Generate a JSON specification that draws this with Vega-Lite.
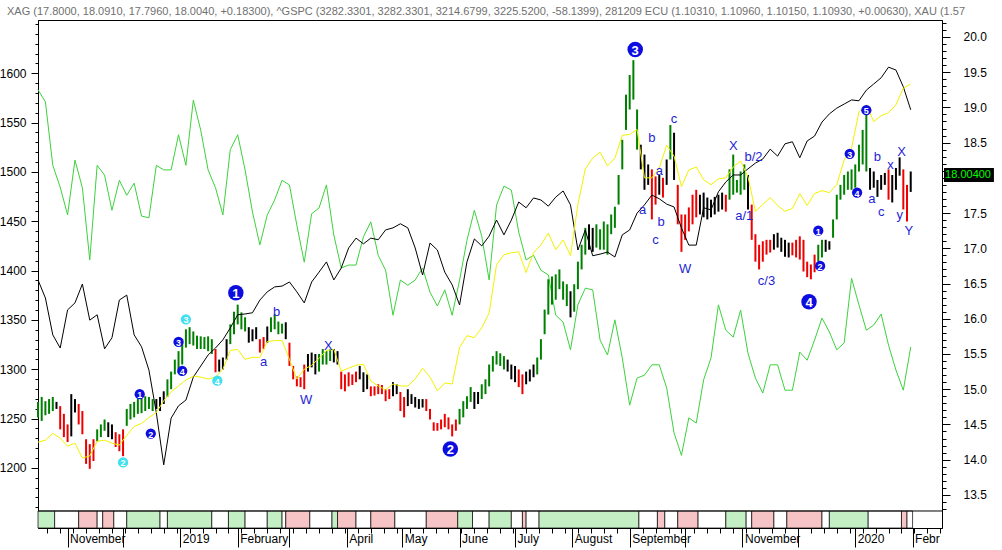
{
"$schema": "https://vega.github.io/schema/vega-lite/v6.json",
"width": 904, "height": 508,
"autosize": {"type": "none"},
"padding": {"left": 38, "top": 20, "right": 60, "bottom": 22},
"background": "#ffffff",
"title": {"text": "XAG (17.8000, 18.0910, 17.7960, 18.0040, +0.18300), ^GSPC (3282.3301, 3282.3301, 3214.6799, 3225.5200, -58.1399), 281209 ECU (1.10310, 1.10960, 1.10150, 1.10930, +0.00630), XAU (1.57", "anchor": "start", "frame": "group", "dx": -31, "offset": -8, "baseline": "bottom", "font": "Liberation Sans", "fontSize": 11, "fontWeight": "normal", "color": "#707070"},
"config": {"view": {"stroke": "#000000", "fill": "#ffffff"}, "font": "Liberation Sans"},
"datasets": {
"xag": [
{"d":"2018-10-16","lo":14.60,"hi":14.82,"c":"g"},{"d":"2018-10-18","lo":14.55,"hi":14.89,"c":"g"},{"d":"2018-10-20","lo":14.63,"hi":14.83,"c":"g"},{"d":"2018-10-22","lo":14.65,"hi":14.86,"c":"g"},{"d":"2018-10-24","lo":14.69,"hi":14.89,"c":"g"},{"d":"2018-10-26","lo":14.72,"hi":14.82,"c":"k"},{"d":"2018-10-28","lo":14.43,"hi":14.76,"c":"r"},{"d":"2018-10-30","lo":14.32,"hi":14.65,"c":"r"},
{"d":"2018-11-01","lo":14.25,"hi":14.50,"c":"r"},{"d":"2018-11-03","lo":14.33,"hi":14.93,"c":"k"},{"d":"2018-11-05","lo":14.67,"hi":14.86,"c":"k"},{"d":"2018-11-07","lo":14.50,"hi":14.79,"c":"r"},{"d":"2018-11-09","lo":14.36,"hi":14.69,"c":"r"},{"d":"2018-11-11","lo":13.94,"hi":14.29,"c":"r"},{"d":"2018-11-13","lo":13.87,"hi":14.22,"c":"r"},{"d":"2018-11-15","lo":13.98,"hi":14.29,"c":"r"},{"d":"2018-11-17","lo":14.26,"hi":14.43,"c":"g"},{"d":"2018-11-19","lo":14.32,"hi":14.50,"c":"g"},{"d":"2018-11-21","lo":14.41,"hi":14.57,"c":"g"},{"d":"2018-11-23","lo":14.32,"hi":14.53,"c":"k"},{"d":"2018-11-25","lo":14.29,"hi":14.50,"c":"k"},{"d":"2018-11-27","lo":14.18,"hi":14.39,"c":"r"},{"d":"2018-11-29","lo":14.12,"hi":14.36,"c":"r"},
{"d":"2018-12-01","lo":14.05,"hi":14.43,"c":"r"},{"d":"2018-12-03","lo":14.48,"hi":14.72,"c":"g"},{"d":"2018-12-05","lo":14.57,"hi":14.79,"c":"g"},{"d":"2018-12-07","lo":14.60,"hi":14.82,"c":"g"},{"d":"2018-12-09","lo":14.65,"hi":14.86,"c":"g"},{"d":"2018-12-11","lo":14.66,"hi":14.89,"c":"g"},{"d":"2018-12-13","lo":14.69,"hi":14.90,"c":"g"},{"d":"2018-12-15","lo":14.72,"hi":14.89,"c":"g"},{"d":"2018-12-17","lo":14.69,"hi":14.86,"c":"g"},{"d":"2018-12-19","lo":14.72,"hi":14.86,"c":"k"},{"d":"2018-12-21","lo":14.69,"hi":14.89,"c":"k"},{"d":"2018-12-23","lo":14.79,"hi":14.97,"c":"k"},{"d":"2018-12-25","lo":14.89,"hi":15.14,"c":"g"},{"d":"2018-12-27","lo":15.00,"hi":15.25,"c":"g"},{"d":"2018-12-29","lo":15.21,"hi":15.42,"c":"g"},{"d":"2018-12-31","lo":15.28,"hi":15.54,"c":"g"},
{"d":"2019-01-02","lo":15.35,"hi":15.71,"c":"g"},{"d":"2019-01-04","lo":15.59,"hi":15.85,"c":"g"},{"d":"2019-01-06","lo":15.64,"hi":15.88,"c":"g"},{"d":"2019-01-08","lo":15.62,"hi":15.82,"c":"g"},{"d":"2019-01-10","lo":15.57,"hi":15.76,"c":"g"},{"d":"2019-01-12","lo":15.57,"hi":15.75,"c":"g"},{"d":"2019-01-14","lo":15.57,"hi":15.74,"c":"g"},{"d":"2019-01-16","lo":15.54,"hi":15.75,"c":"g"},{"d":"2019-01-18","lo":15.50,"hi":15.71,"c":"g"},{"d":"2019-01-20","lo":15.24,"hi":15.57,"c":"r"},{"d":"2019-01-22","lo":15.25,"hi":15.42,"c":"k"},{"d":"2019-01-24","lo":15.28,"hi":15.45,"c":"k"},{"d":"2019-01-26","lo":15.42,"hi":15.71,"c":"k"},{"d":"2019-01-28","lo":15.64,"hi":15.92,"c":"g"},{"d":"2019-01-30","lo":15.78,"hi":16.10,"c":"g"},
{"d":"2019-02-01","lo":15.92,"hi":16.20,"c":"g"},{"d":"2019-02-03","lo":15.85,"hi":16.09,"c":"g"},{"d":"2019-02-05","lo":15.82,"hi":16.02,"c":"g"},{"d":"2019-02-07","lo":15.66,"hi":15.88,"c":"k"},{"d":"2019-02-09","lo":15.68,"hi":15.85,"c":"k"},{"d":"2019-02-11","lo":15.71,"hi":15.88,"c":"k"},{"d":"2019-02-13","lo":15.52,"hi":15.71,"c":"r"},{"d":"2019-02-15","lo":15.57,"hi":15.74,"c":"r"},{"d":"2019-02-17","lo":15.66,"hi":15.89,"c":"k"},{"d":"2019-02-19","lo":15.81,"hi":16.02,"c":"g"},{"d":"2019-02-21","lo":15.85,"hi":16.06,"c":"g"},{"d":"2019-02-23","lo":15.78,"hi":15.96,"c":"g"},{"d":"2019-02-25","lo":15.79,"hi":15.93,"c":"g"},{"d":"2019-02-27","lo":15.71,"hi":15.95,"c":"k"},
{"d":"2019-03-01","lo":15.33,"hi":15.66,"c":"r"},{"d":"2019-03-03","lo":15.14,"hi":15.33,"c":"r"},{"d":"2019-03-05","lo":15.04,"hi":15.18,"c":"r"},{"d":"2019-03-07","lo":15.03,"hi":15.17,"c":"r"},{"d":"2019-03-09","lo":15.00,"hi":15.35,"c":"r"},{"d":"2019-03-11","lo":15.25,"hi":15.50,"c":"k"},{"d":"2019-03-13","lo":15.31,"hi":15.52,"c":"k"},{"d":"2019-03-15","lo":15.21,"hi":15.50,"c":"k"},{"d":"2019-03-17","lo":15.25,"hi":15.50,"c":"g"},{"d":"2019-03-19","lo":15.35,"hi":15.57,"c":"g"},{"d":"2019-03-21","lo":15.35,"hi":15.54,"c":"g"},{"d":"2019-03-23","lo":15.40,"hi":15.57,"c":"g"},{"d":"2019-03-25","lo":15.38,"hi":15.57,"c":"k"},{"d":"2019-03-27","lo":15.35,"hi":15.54,"c":"k"},{"d":"2019-03-29","lo":15.00,"hi":15.25,"c":"r"},{"d":"2019-03-31","lo":14.97,"hi":15.21,"c":"r"},
{"d":"2019-04-02","lo":15.04,"hi":15.24,"c":"r"},{"d":"2019-04-04","lo":15.06,"hi":15.21,"c":"r"},{"d":"2019-04-06","lo":15.10,"hi":15.25,"c":"r"},{"d":"2019-04-08","lo":15.14,"hi":15.33,"c":"k"},{"d":"2019-04-10","lo":14.96,"hi":15.24,"c":"k"},{"d":"2019-04-12","lo":15.00,"hi":15.21,"c":"k"},{"d":"2019-04-14","lo":14.90,"hi":15.04,"c":"r"},{"d":"2019-04-16","lo":14.91,"hi":15.04,"c":"r"},{"d":"2019-04-18","lo":14.93,"hi":15.07,"c":"r"},{"d":"2019-04-20","lo":14.93,"hi":15.06,"c":"r"},{"d":"2019-04-22","lo":14.83,"hi":15.00,"c":"r"},{"d":"2019-04-24","lo":14.86,"hi":15.00,"c":"r"},{"d":"2019-04-26","lo":14.90,"hi":15.10,"c":"k"},{"d":"2019-04-28","lo":14.93,"hi":15.07,"c":"k"},{"d":"2019-04-30","lo":14.69,"hi":14.96,"c":"r"},
{"d":"2019-05-02","lo":14.60,"hi":14.89,"c":"r"},{"d":"2019-05-04","lo":14.76,"hi":15.00,"c":"k"},{"d":"2019-05-06","lo":14.79,"hi":14.93,"c":"k"},{"d":"2019-05-08","lo":14.74,"hi":14.89,"c":"k"},{"d":"2019-05-10","lo":14.72,"hi":14.86,"c":"k"},{"d":"2019-05-12","lo":14.74,"hi":14.86,"c":"k"},{"d":"2019-05-14","lo":14.69,"hi":14.86,"c":"r"},{"d":"2019-05-16","lo":14.57,"hi":14.72,"c":"r"},{"d":"2019-05-18","lo":14.41,"hi":14.53,"c":"r"},{"d":"2019-05-20","lo":14.41,"hi":14.52,"c":"r"},{"d":"2019-05-22","lo":14.43,"hi":14.57,"c":"r"},{"d":"2019-05-24","lo":14.46,"hi":14.65,"c":"r"},{"d":"2019-05-26","lo":14.43,"hi":14.60,"c":"r"},{"d":"2019-05-28","lo":14.33,"hi":14.50,"c":"r"},{"d":"2019-05-30","lo":14.41,"hi":14.57,"c":"r"},
{"d":"2019-06-01","lo":14.50,"hi":14.72,"c":"g"},{"d":"2019-06-03","lo":14.60,"hi":14.83,"c":"g"},{"d":"2019-06-05","lo":14.72,"hi":14.90,"c":"g"},{"d":"2019-06-07","lo":14.82,"hi":15.03,"c":"g"},{"d":"2019-06-09","lo":14.72,"hi":14.96,"c":"k"},{"d":"2019-06-11","lo":14.79,"hi":14.96,"c":"k"},{"d":"2019-06-13","lo":14.86,"hi":15.07,"c":"g"},{"d":"2019-06-15","lo":14.93,"hi":15.14,"c":"g"},{"d":"2019-06-17","lo":15.04,"hi":15.35,"c":"g"},{"d":"2019-06-19","lo":15.25,"hi":15.47,"c":"g"},{"d":"2019-06-21","lo":15.35,"hi":15.54,"c":"g"},{"d":"2019-06-23","lo":15.33,"hi":15.51,"c":"g"},{"d":"2019-06-25","lo":15.28,"hi":15.47,"c":"g"},{"d":"2019-06-27","lo":15.25,"hi":15.42,"c":"k"},{"d":"2019-06-29","lo":15.14,"hi":15.35,"c":"k"},
{"d":"2019-07-01","lo":15.10,"hi":15.33,"c":"k"},{"d":"2019-07-03","lo":15.03,"hi":15.28,"c":"r"},{"d":"2019-07-05","lo":14.93,"hi":15.21,"c":"r"},{"d":"2019-07-07","lo":15.07,"hi":15.25,"c":"k"},{"d":"2019-07-09","lo":15.11,"hi":15.28,"c":"k"},{"d":"2019-07-11","lo":15.17,"hi":15.35,"c":"k"},{"d":"2019-07-13","lo":15.21,"hi":15.45,"c":"g"},{"d":"2019-07-15","lo":15.42,"hi":15.71,"c":"g"},{"d":"2019-07-17","lo":15.78,"hi":16.13,"c":"g"},{"d":"2019-07-19","lo":16.06,"hi":16.56,"c":"g"},{"d":"2019-07-21","lo":16.20,"hi":16.60,"c":"g"},{"d":"2019-07-23","lo":16.27,"hi":16.63,"c":"g"},{"d":"2019-07-25","lo":16.42,"hi":16.70,"c":"g"},{"d":"2019-07-27","lo":16.27,"hi":16.53,"c":"g"},{"d":"2019-07-29","lo":16.18,"hi":16.49,"c":"g"},{"d":"2019-07-31","lo":16.02,"hi":16.39,"c":"k"},
{"d":"2019-08-02","lo":16.10,"hi":16.49,"c":"g"},{"d":"2019-08-04","lo":16.42,"hi":16.81,"c":"g"},{"d":"2019-08-06","lo":16.70,"hi":17.05,"c":"g"},{"d":"2019-08-08","lo":16.91,"hi":17.29,"c":"g"},{"d":"2019-08-10","lo":16.98,"hi":17.34,"c":"k"},{"d":"2019-08-12","lo":16.95,"hi":17.29,"c":"k"},{"d":"2019-08-14","lo":17.01,"hi":17.34,"c":"g"},{"d":"2019-08-16","lo":16.98,"hi":17.27,"c":"g"},{"d":"2019-08-18","lo":16.98,"hi":17.38,"c":"g"},{"d":"2019-08-20","lo":16.91,"hi":17.34,"c":"g"},{"d":"2019-08-22","lo":17.20,"hi":17.48,"c":"g"},{"d":"2019-08-24","lo":17.29,"hi":17.59,"c":"g"},{"d":"2019-08-26","lo":17.62,"hi":18.04,"c":"g"},{"d":"2019-08-28","lo":18.12,"hi":18.54,"c":"g"},{"d":"2019-08-30","lo":18.68,"hi":19.18,"c":"g"},
{"d":"2019-09-01","lo":18.97,"hi":19.46,"c":"g"},{"d":"2019-09-03","lo":19.11,"hi":19.67,"c":"g"},{"d":"2019-09-05","lo":18.40,"hi":18.97,"c":"g"},{"d":"2019-09-07","lo":18.12,"hi":18.47,"c":"k"},{"d":"2019-09-09","lo":17.83,"hi":18.33,"c":"k"},{"d":"2019-09-11","lo":17.90,"hi":18.19,"c":"k"},{"d":"2019-09-13","lo":17.41,"hi":18.12,"c":"r"},{"d":"2019-09-15","lo":17.62,"hi":18.02,"c":"r"},{"d":"2019-09-17","lo":17.76,"hi":18.04,"c":"k"},{"d":"2019-09-19","lo":17.72,"hi":18.00,"c":"r"},{"d":"2019-09-21","lo":17.90,"hi":18.26,"c":"k"},{"d":"2019-09-23","lo":18.26,"hi":18.75,"c":"g"},{"d":"2019-09-25","lo":17.97,"hi":18.64,"c":"k"},{"d":"2019-09-27","lo":17.34,"hi":17.90,"c":"r"},{"d":"2019-09-29","lo":16.95,"hi":17.48,"c":"r"},
{"d":"2019-10-01","lo":17.12,"hi":17.48,"c":"r"},{"d":"2019-10-03","lo":17.24,"hi":17.58,"c":"r"},{"d":"2019-10-05","lo":17.34,"hi":17.76,"c":"r"},{"d":"2019-10-07","lo":17.44,"hi":17.83,"c":"r"},{"d":"2019-10-09","lo":17.48,"hi":17.76,"c":"k"},{"d":"2019-10-11","lo":17.44,"hi":17.79,"c":"k"},{"d":"2019-10-13","lo":17.41,"hi":17.72,"c":"k"},{"d":"2019-10-15","lo":17.44,"hi":17.69,"c":"k"},{"d":"2019-10-17","lo":17.48,"hi":17.73,"c":"k"},{"d":"2019-10-19","lo":17.52,"hi":17.76,"c":"k"},{"d":"2019-10-21","lo":17.55,"hi":17.79,"c":"k"},{"d":"2019-10-23","lo":17.52,"hi":17.76,"c":"r"},{"d":"2019-10-25","lo":17.69,"hi":18.12,"c":"g"},{"d":"2019-10-27","lo":17.76,"hi":18.33,"c":"g"},{"d":"2019-10-29","lo":17.79,"hi":17.97,"c":"g"},{"d":"2019-10-31","lo":17.76,"hi":18.09,"c":"g"},
{"d":"2019-11-02","lo":17.83,"hi":18.19,"c":"g"},{"d":"2019-11-04","lo":17.55,"hi":18.04,"c":"k"},{"d":"2019-11-06","lo":17.12,"hi":17.62,"c":"r"},{"d":"2019-11-08","lo":16.81,"hi":17.20,"c":"r"},{"d":"2019-11-10","lo":16.70,"hi":17.05,"c":"r"},{"d":"2019-11-12","lo":16.81,"hi":17.10,"c":"r"},{"d":"2019-11-14","lo":16.91,"hi":17.12,"c":"r"},{"d":"2019-11-16","lo":16.94,"hi":17.12,"c":"r"},{"d":"2019-11-18","lo":16.98,"hi":17.20,"c":"k"},{"d":"2019-11-20","lo":17.01,"hi":17.22,"c":"k"},{"d":"2019-11-22","lo":16.95,"hi":17.15,"c":"k"},{"d":"2019-11-24","lo":16.88,"hi":17.12,"c":"k"},{"d":"2019-11-26","lo":16.87,"hi":17.08,"c":"k"},{"d":"2019-11-28","lo":16.90,"hi":17.08,"c":"r"},{"d":"2019-11-30","lo":16.87,"hi":17.12,"c":"r"},
{"d":"2019-12-02","lo":16.84,"hi":17.17,"c":"r"},{"d":"2019-12-04","lo":16.67,"hi":17.12,"c":"r"},{"d":"2019-12-06","lo":16.59,"hi":16.81,"c":"r"},{"d":"2019-12-08","lo":16.56,"hi":16.77,"c":"r"},{"d":"2019-12-10","lo":16.66,"hi":16.91,"c":"r"},{"d":"2019-12-12","lo":16.81,"hi":17.05,"c":"g"},{"d":"2019-12-14","lo":16.87,"hi":17.12,"c":"g"},{"d":"2019-12-16","lo":16.95,"hi":17.12,"c":"k"},{"d":"2019-12-18","lo":16.98,"hi":17.10,"c":"k"},{"d":"2019-12-20","lo":17.15,"hi":17.41,"c":"g"},{"d":"2019-12-22","lo":17.41,"hi":17.76,"c":"g"},{"d":"2019-12-24","lo":17.69,"hi":17.90,"c":"g"},{"d":"2019-12-26","lo":17.76,"hi":18.04,"c":"g"},{"d":"2019-12-28","lo":17.83,"hi":18.09,"c":"g"},{"d":"2019-12-30","lo":17.83,"hi":18.12,"c":"g"},
{"d":"2020-01-01","lo":17.86,"hi":18.19,"c":"g"},{"d":"2020-01-03","lo":18.09,"hi":18.47,"c":"g"},{"d":"2020-01-05","lo":18.19,"hi":18.68,"c":"g"},{"d":"2020-01-07","lo":18.09,"hi":19.01,"c":"g"},{"d":"2020-01-09","lo":17.83,"hi":18.14,"c":"k"},{"d":"2020-01-11","lo":17.86,"hi":18.09,"c":"k"},{"d":"2020-01-13","lo":17.73,"hi":17.97,"c":"k"},{"d":"2020-01-15","lo":17.83,"hi":18.04,"c":"k"},{"d":"2020-01-17","lo":17.90,"hi":18.07,"c":"k"},{"d":"2020-01-19","lo":17.69,"hi":18.12,"c":"r"},{"d":"2020-01-21","lo":17.65,"hi":18.04,"c":"k"},{"d":"2020-01-23","lo":17.83,"hi":18.14,"c":"k"},{"d":"2020-01-25","lo":18.03,"hi":18.29,"c":"k"},{"d":"2020-01-27","lo":17.55,"hi":18.12,"c":"r"},{"d":"2020-01-29","lo":17.38,"hi":17.90,"c":"r"},{"d":"2020-01-31","lo":17.80,"hi":18.09,"c":"k"}
],
"ln": [
{"d":"2018-10-16","spx":2811,"eur":1.1539,"xau":1226},{"d":"2018-10-20","spx":2767,"eur":1.1518,"xau":1228},{"d":"2018-10-24","spx":2677,"eur":1.1408,"xau":1235},{"d":"2018-10-28","spx":2645,"eur":1.1370,"xau":1230},{"d":"2018-11-01","spx":2738,"eur":1.1322,"xau":1222},{"d":"2018-11-05","spx":2755,"eur":1.1417,"xau":1225},{"d":"2018-11-09","spx":2801,"eur":1.1369,"xau":1210},{"d":"2018-11-13","spx":2713,"eur":1.1244,"xau":1212},{"d":"2018-11-17","spx":2726,"eur":1.1408,"xau":1227},{"d":"2018-11-21","spx":2643,"eur":1.1391,"xau":1228},{"d":"2018-11-25","spx":2670,"eur":1.1330,"xau":1225},{"d":"2018-11-29","spx":2762,"eur":1.1382,"xau":1223},
{"d":"2018-12-03","spx":2774,"eur":1.1356,"xau":1233},{"d":"2018-12-07","spx":2677,"eur":1.1377,"xau":1242},{"d":"2018-12-11","spx":2648,"eur":1.1320,"xau":1245},{"d":"2018-12-15","spx":2591,"eur":1.1317,"xau":1251},{"d":"2018-12-19","spx":2487,"eur":1.1408,"xau":1256},{"d":"2018-12-23","spx":2360,"eur":1.1400,"xau":1268},{"d":"2018-12-27","spx":2474,"eur":1.1400,"xau":1277},{"d":"2018-12-31","spx":2504,"eur":1.1461,"xau":1283},
{"d":"2019-01-04","spx":2518,"eur":1.1408,"xau":1289},{"d":"2019-01-08","spx":2574,"eur":1.1521,"xau":1293},{"d":"2019-01-12","spx":2601,"eur":1.1469,"xau":1292},{"d":"2019-01-16","spx":2628,"eur":1.1400,"xau":1290},{"d":"2019-01-20","spx":2645,"eur":1.1369,"xau":1292},{"d":"2019-01-24","spx":2665,"eur":1.1322,"xau":1300},{"d":"2019-01-28","spx":2694,"eur":1.1435,"xau":1319},
{"d":"2019-02-01","spx":2726,"eur":1.1461,"xau":1320},{"d":"2019-02-05","spx":2728,"eur":1.1400,"xau":1310},{"d":"2019-02-09","spx":2731,"eur":1.1327,"xau":1312},{"d":"2019-02-13","spx":2762,"eur":1.1270,"xau":1312},{"d":"2019-02-17","spx":2782,"eur":1.1322,"xau":1328},{"d":"2019-02-21","spx":2794,"eur":1.1348,"xau":1329},{"d":"2019-02-25","spx":2796,"eur":1.1382,"xau":1329},
{"d":"2019-03-01","spx":2806,"eur":1.1374,"xau":1310},{"d":"2019-03-05","spx":2782,"eur":1.1304,"xau":1290},{"d":"2019-03-09","spx":2755,"eur":1.1240,"xau":1300},{"d":"2019-03-13","spx":2806,"eur":1.1324,"xau":1304},{"d":"2019-03-17","spx":2830,"eur":1.1334,"xau":1311},{"d":"2019-03-21","spx":2855,"eur":1.1374,"xau":1319},{"d":"2019-03-25","spx":2811,"eur":1.1287,"xau":1320},{"d":"2019-03-29","spx":2840,"eur":1.1230,"xau":1298},
{"d":"2019-04-02","spx":2889,"eur":1.1235,"xau":1301},{"d":"2019-04-06","spx":2913,"eur":1.1235,"xau":1304},{"d":"2019-04-10","spx":2899,"eur":1.1284,"xau":1305},{"d":"2019-04-14","spx":2913,"eur":1.1310,"xau":1288},{"d":"2019-04-18","spx":2909,"eur":1.1252,"xau":1283},{"d":"2019-04-22","spx":2933,"eur":1.1226,"xau":1279},{"d":"2019-04-26","spx":2938,"eur":1.1148,"xau":1285},{"d":"2019-04-30","spx":2948,"eur":1.1209,"xau":1283},
{"d":"2019-05-04","spx":2938,"eur":1.1200,"xau":1283},{"d":"2019-05-08","spx":2889,"eur":1.1209,"xau":1290},{"d":"2019-05-12","spx":2823,"eur":1.1230,"xau":1301},{"d":"2019-05-16","spx":2901,"eur":1.1188,"xau":1292},{"d":"2019-05-20","spx":2884,"eur":1.1164,"xau":1278},{"d":"2019-05-24","spx":2830,"eur":1.1192,"xau":1286},{"d":"2019-05-28","spx":2799,"eur":1.1148,"xau":1285},
{"d":"2019-06-01","spx":2750,"eur":1.1209,"xau":1322},{"d":"2019-06-05","spx":2855,"eur":1.1278,"xau":1334},{"d":"2019-06-09","spx":2911,"eur":1.1330,"xau":1332},{"d":"2019-06-13","spx":2894,"eur":1.1285,"xau":1342},{"d":"2019-06-17","spx":2918,"eur":1.1209,"xau":1357},{"d":"2019-06-21","spx":2957,"eur":1.1339,"xau":1406},{"d":"2019-06-25","spx":2921,"eur":1.1372,"xau":1416},{"d":"2019-06-29","spx":2957,"eur":1.1365,"xau":1418},
{"d":"2019-07-03","spx":3001,"eur":1.1292,"xau":1419},{"d":"2019-07-07","spx":2987,"eur":1.1244,"xau":1398},{"d":"2019-07-11","spx":3011,"eur":1.1252,"xau":1418},{"d":"2019-07-15","spx":3006,"eur":1.1226,"xau":1426},{"d":"2019-07-19","spx":2991,"eur":1.1218,"xau":1438},{"d":"2019-07-23","spx":3013,"eur":1.1148,"xau":1421},{"d":"2019-07-27","spx":3028,"eur":1.1136,"xau":1431},{"d":"2019-07-31","spx":2994,"eur":1.1088,"xau":1415},
{"d":"2019-08-04","spx":2884,"eur":1.1166,"xau":1467},{"d":"2019-08-08","spx":2933,"eur":1.1195,"xau":1503},{"d":"2019-08-12","spx":2870,"eur":1.1192,"xau":1514},{"d":"2019-08-16","spx":2874,"eur":1.1105,"xau":1520},{"d":"2019-08-20","spx":2879,"eur":1.1079,"xau":1506},{"d":"2019-08-24","spx":2867,"eur":1.1140,"xau":1514},{"d":"2019-08-28","spx":2921,"eur":1.1074,"xau":1537},
{"d":"2019-09-01","spx":2933,"eur":1.0992,"xau":1538},{"d":"2019-09-05","spx":2974,"eur":1.1039,"xau":1543},{"d":"2019-09-09","spx":2994,"eur":1.1044,"xau":1494},{"d":"2019-09-13","spx":3018,"eur":1.1062,"xau":1494},{"d":"2019-09-17","spx":3009,"eur":1.1062,"xau":1504},{"d":"2019-09-21","spx":2996,"eur":1.1022,"xau":1527},{"d":"2019-09-25","spx":2989,"eur":1.0944,"xau":1516},{"d":"2019-09-29","spx":2938,"eur":1.0905,"xau":1485},
{"d":"2019-10-03","spx":2896,"eur":1.0970,"xau":1502},{"d":"2019-10-07","spx":2896,"eur":1.0961,"xau":1505},{"d":"2019-10-11","spx":2987,"eur":1.1036,"xau":1492},{"d":"2019-10-15","spx":2982,"eur":1.1074,"xau":1487},{"d":"2019-10-19","spx":3026,"eur":1.1166,"xau":1493},{"d":"2019-10-23","spx":3050,"eur":1.1122,"xau":1494},{"d":"2019-10-27","spx":3067,"eur":1.1110,"xau":1505},{"d":"2019-10-31","spx":3067,"eur":1.1157,"xau":1511},
{"d":"2019-11-04","spx":3082,"eur":1.1082,"xau":1495},{"d":"2019-11-08","spx":3096,"eur":1.1039,"xau":1460},{"d":"2019-11-12","spx":3106,"eur":1.1013,"xau":1467},{"d":"2019-11-16","spx":3130,"eur":1.1062,"xau":1474},{"d":"2019-11-20","spx":3113,"eur":1.1062,"xau":1466},{"d":"2019-11-24","spx":3143,"eur":1.1018,"xau":1460},{"d":"2019-11-28","spx":3148,"eur":1.1018,"xau":1463},
{"d":"2019-12-02","spx":3109,"eur":1.1084,"xau":1478},{"d":"2019-12-06","spx":3150,"eur":1.1070,"xau":1466},{"d":"2019-12-10","spx":3162,"eur":1.1105,"xau":1478},{"d":"2019-12-14","spx":3196,"eur":1.1143,"xau":1481},{"d":"2019-12-18","spx":3216,"eur":1.1119,"xau":1479},{"d":"2019-12-22","spx":3230,"eur":1.1088,"xau":1487},{"d":"2019-12-26","spx":3240,"eur":1.1100,"xau":1512},{"d":"2019-12-30","spx":3250,"eur":1.1212,"xau":1524},
{"d":"2020-01-03","spx":3248,"eur":1.1166,"xau":1561},{"d":"2020-01-07","spx":3274,"eur":1.1122,"xau":1568},{"d":"2020-01-11","spx":3289,"eur":1.1131,"xau":1551},{"d":"2020-01-15","spx":3304,"eur":1.1150,"xau":1557},{"d":"2020-01-19","spx":3330,"eur":1.1096,"xau":1560},{"d":"2020-01-23","spx":3323,"eur":1.1053,"xau":1568},{"d":"2020-01-27","spx":3282,"eur":1.1018,"xau":1585},{"d":"2020-01-31","spx":3226,"eur":1.1093,"xau":1589}
],
"strip": [
{"s":"2018-10-16","e":"2018-10-25","t":"g"},{"s":"2018-10-25","e":"2018-11-07","t":"w"},{"s":"2018-11-07","e":"2018-11-17","t":"r"},{"s":"2018-11-17","e":"2018-11-20","t":"w"},{"s":"2018-11-20","e":"2018-11-26","t":"r"},{"s":"2018-11-26","e":"2018-12-03","t":"w"},{"s":"2018-12-03","e":"2018-12-21","t":"g"},{"s":"2018-12-21","e":"2018-12-25","t":"w"},{"s":"2018-12-25","e":"2019-01-18","t":"g"},{"s":"2019-01-18","e":"2019-01-27","t":"w"},{"s":"2019-01-27","e":"2019-02-05","t":"g"},{"s":"2019-02-05","e":"2019-02-17","t":"w"},{"s":"2019-02-17","e":"2019-02-25","t":"g"},{"s":"2019-02-25","e":"2019-02-27","t":"w"},{"s":"2019-02-27","e":"2019-03-12","t":"r"},{"s":"2019-03-12","e":"2019-03-24","t":"w"},{"s":"2019-03-24","e":"2019-03-27","t":"g"},{"s":"2019-03-27","e":"2019-04-06","t":"r"},{"s":"2019-04-06","e":"2019-04-14","t":"w"},{"s":"2019-04-14","e":"2019-04-27","t":"r"},{"s":"2019-04-27","e":"2019-05-14","t":"w"},{"s":"2019-05-14","e":"2019-05-31","t":"r"},{"s":"2019-05-31","e":"2019-06-08","t":"g"},{"s":"2019-06-08","e":"2019-06-17","t":"w"},{"s":"2019-06-17","e":"2019-06-29","t":"g"},{"s":"2019-06-29","e":"2019-07-05","t":"w"},{"s":"2019-07-05","e":"2019-07-07","t":"r"},{"s":"2019-07-07","e":"2019-07-14","t":"w"},{"s":"2019-07-14","e":"2019-09-06","t":"g"},{"s":"2019-09-06","e":"2019-09-16","t":"w"},{"s":"2019-09-16","e":"2019-09-20","t":"r"},{"s":"2019-09-20","e":"2019-09-27","t":"w"},{"s":"2019-09-27","e":"2019-10-08","t":"r"},{"s":"2019-10-08","e":"2019-10-23","t":"w"},{"s":"2019-10-23","e":"2019-11-03","t":"g"},{"s":"2019-11-03","e":"2019-11-06","t":"w"},{"s":"2019-11-06","e":"2019-11-18","t":"r"},{"s":"2019-11-18","e":"2019-11-25","t":"w"},{"s":"2019-11-25","e":"2019-12-14","t":"r"},{"s":"2019-12-14","e":"2019-12-18","t":"w"},{"s":"2019-12-18","e":"2020-01-08","t":"g"},{"s":"2020-01-08","e":"2020-01-26","t":"w"},{"s":"2020-01-26","e":"2020-01-29","t":"r"},{"s":"2020-01-29","e":"2020-02-01","t":"w"}
],
"ann": [
{"d":"2018-12-01","v":13.96,"t":"2","k":"C"},{"d":"2018-12-10","v":14.93,"t":"1","k":"S"},{"d":"2018-12-16","v":14.37,"t":"2","k":"S"},{"d":"2018-12-31","v":15.67,"t":"3","k":"S"},{"d":"2019-01-02","v":15.26,"t":"4","k":"S"},{"d":"2019-01-04","v":15.99,"t":"3","k":"C"},{"d":"2019-01-21","v":15.12,"t":"4","k":"C"},{"d":"2019-01-31","v":16.37,"t":"1","k":"B"},
{"d":"2019-02-22","v":16.09,"t":"b","k":"L"},{"d":"2019-02-15","v":15.39,"t":"a","k":"L"},{"d":"2019-03-10","v":14.84,"t":"W","k":"L"},{"d":"2019-03-22","v":15.62,"t":"X","k":"L"},{"d":"2019-05-27","v":14.15,"t":"2","k":"B"},{"d":"2019-09-04","v":19.82,"t":"3","k":"B"},
{"d":"2019-09-08","v":17.55,"t":"a","k":"L"},{"d":"2019-09-13","v":18.56,"t":"b","k":"L"},{"d":"2019-09-17","v":18.09,"t":"a","k":"L"},{"d":"2019-09-25","v":18.83,"t":"c","k":"L"},{"d":"2019-09-18","v":17.37,"t":"b","k":"L"},{"d":"2019-09-15","v":17.12,"t":"c","k":"L"},{"d":"2019-10-01","v":16.71,"t":"W","k":"L"},{"d":"2019-10-27","v":18.45,"t":"X","k":"L"},{"d":"2019-11-07","v":18.30,"t":"b/2","k":"L"},{"d":"2019-11-02","v":17.46,"t":"a/1","k":"L"},{"d":"2019-11-14","v":16.53,"t":"c/3","k":"L"},
{"d":"2019-12-07","v":16.24,"t":"4","k":"B"},{"d":"2019-12-12","v":17.25,"t":"1","k":"S"},{"d":"2019-12-13","v":16.75,"t":"2","k":"S"},{"d":"2019-12-29","v":18.34,"t":"3","k":"S"},{"d":"2020-01-02","v":17.79,"t":"4","k":"S"},{"d":"2020-01-07","v":18.96,"t":"5","k":"S"},
{"d":"2020-01-13","v":18.30,"t":"b","k":"L"},{"d":"2020-01-10","v":17.70,"t":"a","k":"L"},{"d":"2020-01-15","v":17.51,"t":"c","k":"L"},{"d":"2020-01-20","v":18.18,"t":"x","k":"L"},{"d":"2020-01-26","v":18.37,"t":"X","k":"L"},{"d":"2020-01-25","v":17.47,"t":"y","k":"L"},{"d":"2020-01-30","v":17.25,"t":"Y","k":"L"}
],
"last": [{"s":"2020-02-18","e":"2020-03-16","m":"2020-03-02","lo":17.94,"hi":18.14,"v":18.04,"t":"18.00400"}]
},
"layer": [
{"data":{"name":"strip"},"mark":{"type":"rect","stroke":"#000000","strokeWidth":0.7},
 "encoding":{
  "x":{"field":"s","type":"temporal","scale":{"type":"utc","nice":false,"domain":[{"year":2018,"month":10,"date":16,"utc":true},{"year":2020,"month":2,"date":16,"hours":22,"utc":true}]},
   "axis":{"orient":"bottom","title":null,"grid":false,"domain":false,"tickSize":19,"tickColor":"#000000","labelAlign":"left","labelOffset":2,"labelPadding":-14,"labelBaseline":"top","labelFlush":false,"labelOverlap":false,"labelBound":false,"labelFont":"Liberation Sans","labelFontSize":12,"labelColor":"#000000",
    "values":[{"year":2018,"month":11,"date":1,"utc":true},{"year":2018,"month":12,"date":1,"utc":true},{"year":2019,"month":1,"date":1,"utc":true},{"year":2019,"month":2,"date":1,"utc":true},{"year":2019,"month":3,"date":1,"utc":true},{"year":2019,"month":4,"date":1,"utc":true},{"year":2019,"month":5,"date":1,"utc":true},{"year":2019,"month":6,"date":1,"utc":true},{"year":2019,"month":7,"date":1,"utc":true},{"year":2019,"month":8,"date":1,"utc":true},{"year":2019,"month":9,"date":1,"utc":true},{"year":2019,"month":10,"date":1,"utc":true},{"year":2019,"month":11,"date":1,"utc":true},{"year":2019,"month":12,"date":1,"utc":true},{"year":2020,"month":1,"date":1,"utc":true},{"year":2020,"month":2,"date":1,"utc":true}],
    "labelExpr":"utcmonth(datum.value)==0 ? utcFormat(datum.value,'%Y') : ((utcyear(datum.value)==2020 && utcmonth(datum.value)==1) ? 'Febr' : (indexof([2,9,11], utcmonth(datum.value))>=0 ? '' : utcFormat(datum.value,'%B')))"}},
  "x2":{"field":"e"},
  "y":{"datum":0,"type":"quantitative","scale":{"domain":[0,29.88],"nice":false,"zero":false},"axis":null},
  "y2":{"datum":1},
  "color":{"field":"t","type":"nominal","scale":{"domain":["g","r","w"],"range":["#c4eec4","#f6c4c4","#ffffff"]},"legend":null}}},
{"data":{"name":"strip"},"mark":{"type":"rule","opacity":0},
 "encoding":{"x":{"field":"s","type":"temporal","scale":{"type":"utc","nice":false,"domain":[{"year":2018,"month":10,"date":16,"utc":true},{"year":2020,"month":2,"date":16,"hours":22,"utc":true}]},
   "axis":{"orient":"bottom","title":null,"grid":false,"domain":false,"labels":false,"tickSize":5,"tickColor":"#000000","tickCount":"week"}}}},
{"data":{"values":[{}]},"mark":{"type":"rule","color":"#000000","strokeWidth":1},
 "encoding":{"y":{"datum":1,"type":"quantitative","scale":{"domain":[0,29.88],"nice":false,"zero":false},"axis":null}}},
{"data":{"name":"ln"},"mark":{"type":"line","color":"#3cd23c","strokeWidth":1},
 "encoding":{"x":{"field":"d","type":"temporal","scale":{"type":"utc","nice":false,"domain":[{"year":2018,"month":10,"date":16,"utc":true},{"year":2020,"month":2,"date":16,"hours":22,"utc":true}]},"axis":null},
  "y":{"field":"eur","type":"quantitative","scale":{"domain":[1.0779,1.166],"nice":false,"zero":false},"axis":null}}},
{"data":{"name":"xag"},"mark":{"type":"rule","strokeWidth":2},
 "encoding":{"x":{"field":"d","type":"temporal","scale":{"type":"utc","nice":false,"domain":[{"year":2018,"month":10,"date":16,"utc":true},{"year":2020,"month":2,"date":16,"hours":22,"utc":true}]},"axis":null},
  "y":{"field":"lo","type":"quantitative","scale":{"domain":[13.03,20.24],"nice":false,"zero":false},
   "axis":{"orient":"right","title":null,"grid":false,"values":[13.5,14,14.5,15,15.5,16,16.5,17,17.5,18.5,19,19.5,20],"format":".1f","tickSize":8,"labelPadding":13,"domain":true,"domainColor":"#000000","tickColor":"#000000","labelFont":"Liberation Sans","labelFontSize":12,"labelColor":"#000000"}},
  "y2":{"field":"hi"},
  "color":{"field":"c","type":"nominal","scale":{"domain":["g","r","k"],"range":["#008000","#ee0000","#000000"]},"legend":null}}},
{"data":{"name":"xag"},"mark":{"type":"point","opacity":0},
 "encoding":{"x":{"field":"d","type":"temporal","scale":{"type":"utc","nice":false,"domain":[{"year":2018,"month":10,"date":16,"utc":true},{"year":2020,"month":2,"date":16,"hours":22,"utc":true}]},"axis":null},
  "y":{"field":"hi","type":"quantitative","scale":{"domain":[13.03,20.24],"nice":false,"zero":false},
   "axis":{"orient":"right","title":null,"grid":false,"labels":false,"domain":false,"tickSize":4,"tickColor":"#000000",
    "values":[13.3,13.4,13.5,13.6,13.7,13.8,13.9,14,14.1,14.2,14.3,14.4,14.5,14.6,14.7,14.8,14.9,15,15.1,15.2,15.3,15.4,15.5,15.6,15.7,15.8,15.9,16,16.1,16.2,16.3,16.4,16.5,16.6,16.7,16.8,16.9,17,17.1,17.2,17.3,17.4,17.5,17.6,17.7,17.8,17.9,18,18.1,18.2,18.3,18.4,18.5,18.6,18.7,18.8,18.9,19,19.1,19.2,19.3,19.4,19.5,19.6,19.7,19.8,19.9,20,20.1,20.2]}}}},
{"data":{"name":"ln"},"mark":{"type":"line","color":"#000000","strokeWidth":1},
 "encoding":{"x":{"field":"d","type":"temporal","scale":{"type":"utc","nice":false,"domain":[{"year":2018,"month":10,"date":16,"utc":true},{"year":2020,"month":2,"date":16,"hours":22,"utc":true}]},"axis":null},
  "y":{"field":"spx","type":"quantitative","scale":{"domain":[2206,3445],"nice":false,"zero":false},"axis":null}}},
{"data":{"name":"ln"},"mark":{"type":"line","color":"#f2f200","strokeWidth":1},
 "encoding":{"x":{"field":"d","type":"temporal","scale":{"type":"utc","nice":false,"domain":[{"year":2018,"month":10,"date":16,"utc":true},{"year":2020,"month":2,"date":16,"hours":22,"utc":true}]},"axis":null},
  "y":{"field":"xau","type":"quantitative","scale":{"domain":[1139,1654],"nice":false,"zero":false},
   "axis":{"orient":"left","title":null,"grid":false,"values":[1200,1250,1300,1350,1400,1450,1500,1550,1600],"format":"d","tickSize":7,"labelPadding":5,"domain":true,"domainColor":"#000000","tickColor":"#000000","labelFont":"Liberation Sans","labelFontSize":12,"labelColor":"#000000"}}}},
{"data":{"name":"ln"},"mark":{"type":"point","opacity":0},
 "encoding":{"x":{"field":"d","type":"temporal","scale":{"type":"utc","nice":false,"domain":[{"year":2018,"month":10,"date":16,"utc":true},{"year":2020,"month":2,"date":16,"hours":22,"utc":true}]},"axis":null},
  "y":{"field":"xau","type":"quantitative","scale":{"domain":[1139,1654],"nice":false,"zero":false},
   "axis":{"orient":"left","title":null,"grid":false,"labels":false,"domain":false,"tickSize":3,"tickColor":"#000000",
    "values":[1160,1170,1180,1190,1200,1210,1220,1230,1240,1250,1260,1270,1280,1290,1300,1310,1320,1330,1340,1350,1360,1370,1380,1390,1400,1410,1420,1430,1440,1450,1460,1470,1480,1490,1500,1510,1520,1530,1540,1550,1560,1570,1580,1590,1600,1610,1620,1630,1640,1650]}}}},
{"data":{"name":"ann"},"transform":[{"filter":"datum.k == 'B'"}],"mark":{"type":"point","filled":true,"opacity":1,"size":240,"color":"#0d0de0"},
 "encoding":{"x":{"field":"d","type":"temporal","scale":{"type":"utc","nice":false,"domain":[{"year":2018,"month":10,"date":16,"utc":true},{"year":2020,"month":2,"date":16,"hours":22,"utc":true}]},"axis":null},
  "y":{"field":"v","type":"quantitative","scale":{"domain":[13.03,20.24],"nice":false,"zero":false},"axis":null}}},
{"data":{"name":"ann"},"transform":[{"filter":"datum.k == 'B'"}],"mark":{"type":"text","color":"#ffffff","fontWeight":"bold","fontSize":13,"font":"Liberation Sans","align":"center","baseline":"middle","dy":1},
 "encoding":{"x":{"field":"d","type":"temporal","scale":{"type":"utc","nice":false,"domain":[{"year":2018,"month":10,"date":16,"utc":true},{"year":2020,"month":2,"date":16,"hours":22,"utc":true}]},"axis":null},
  "y":{"field":"v","type":"quantitative","scale":{"domain":[13.03,20.24],"nice":false,"zero":false},"axis":null},
  "text":{"field":"t"}}},
{"data":{"name":"ann"},"transform":[{"filter":"datum.k == 'S' || datum.k == 'C'"}],"mark":{"type":"point","filled":true,"opacity":1,"size":105},
 "encoding":{"x":{"field":"d","type":"temporal","scale":{"type":"utc","nice":false,"domain":[{"year":2018,"month":10,"date":16,"utc":true},{"year":2020,"month":2,"date":16,"hours":22,"utc":true}]},"axis":null},
  "y":{"field":"v","type":"quantitative","scale":{"domain":[13.03,20.24],"nice":false,"zero":false},"axis":null},
  "color":{"field":"k","type":"nominal","scale":{"domain":["S","C"],"range":["#0d0de0","#3fe0f0"]},"legend":null}}},
{"data":{"name":"ann"},"transform":[{"filter":"datum.k == 'S' || datum.k == 'C'"}],"mark":{"type":"text","color":"#ffffff","fontWeight":"bold","fontSize":9,"font":"Liberation Sans","align":"center","baseline":"middle","dy":1},
 "encoding":{"x":{"field":"d","type":"temporal","scale":{"type":"utc","nice":false,"domain":[{"year":2018,"month":10,"date":16,"utc":true},{"year":2020,"month":2,"date":16,"hours":22,"utc":true}]},"axis":null},
  "y":{"field":"v","type":"quantitative","scale":{"domain":[13.03,20.24],"nice":false,"zero":false},"axis":null},
  "text":{"field":"t"}}},
{"data":{"name":"ann"},"transform":[{"filter":"datum.k == 'L'"}],"mark":{"type":"text","color":"#1f1fd6","fontSize":13,"font":"Liberation Sans","align":"center","baseline":"middle"},
 "encoding":{"x":{"field":"d","type":"temporal","scale":{"type":"utc","nice":false,"domain":[{"year":2018,"month":10,"date":16,"utc":true},{"year":2020,"month":2,"date":16,"hours":22,"utc":true}]},"axis":null},
  "y":{"field":"v","type":"quantitative","scale":{"domain":[13.03,20.24],"nice":false,"zero":false},"axis":null},
  "text":{"field":"t"}}},
{"data":{"name":"last"},"mark":{"type":"rect","color":"#000000"},
 "encoding":{"x":{"field":"s","type":"temporal","scale":{"type":"utc","nice":false,"domain":[{"year":2018,"month":10,"date":16,"utc":true},{"year":2020,"month":2,"date":16,"hours":22,"utc":true}]},"axis":null},
  "x2":{"field":"e"},
  "y":{"field":"lo","type":"quantitative","scale":{"domain":[13.03,20.24],"nice":false,"zero":false},"axis":null},
  "y2":{"field":"hi"}}},
{"data":{"name":"last"},"mark":{"type":"text","color":"#00ff00","fontSize":11,"font":"Liberation Sans","align":"center","baseline":"middle"},
 "encoding":{"x":{"field":"m","type":"temporal","scale":{"type":"utc","nice":false,"domain":[{"year":2018,"month":10,"date":16,"utc":true},{"year":2020,"month":2,"date":16,"hours":22,"utc":true}]},"axis":null},
  "y":{"field":"v","type":"quantitative","scale":{"domain":[13.03,20.24],"nice":false,"zero":false},"axis":null},
  "text":{"field":"t"}}}
],
"resolve": {"scale": {"y": "independent", "color": "independent"}, "axis": {"x": "independent", "y": "independent"}}
}
